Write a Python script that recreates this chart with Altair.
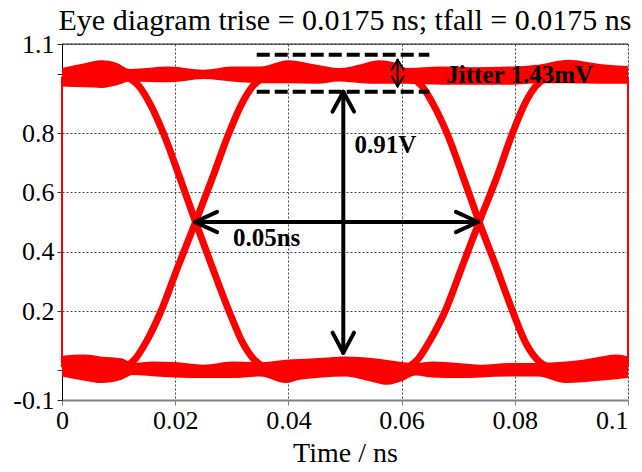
import altair as alt
import pandas as pd

FONT = "Liberation Serif"
RED = "#ff0000"

# ---- upper (logic 1) band: time, upper edge, lower edge ----
top_t = [0, 0.004, 0.007, 0.0095, 0.012, 0.019, 0.025, 0.030, 0.035, 0.040, 0.045, 0.049,
         0.053, 0.056, 0.059, 0.061, 0.067, 0.0725, 0.0795, 0.084, 0.0895, 0.095, 0.1]
top_hi = [1.019, 1.035, 1.045, 1.038, 1.016, 1.024, 1.013, 1.024, 1.024, 1.045, 1.030, 1.019,
          1.033, 1.045, 1.036, 1.019, 1.024, 1.022, 1.024, 1.030, 1.047, 1.033, 1.026]
top_lo = [0.957, 0.954, 0.952, 0.960, 0.974, 0.971, 0.982, 0.974, 0.968, 0.968, 0.966, 0.974,
          0.968, 0.966, 0.966, 0.966, 0.963, 0.963, 0.963, 0.968, 0.968, 0.966, 0.966]

# ---- lower (logic 0) band ----
bot_t = [0, 0.004, 0.007, 0.0105, 0.0125, 0.016, 0.020, 0.025, 0.030, 0.035, 0.0395, 0.042,
         0.046, 0.050, 0.055, 0.0575, 0.060, 0.0625, 0.0655, 0.070, 0.074, 0.079, 0.084,
         0.089, 0.092, 0.094, 0.098, 0.1]
bot_hi = [0.049, 0.053, 0.046, 0.041, 0.025, 0.030, 0.028, 0.019, 0.030, 0.027, 0.036, 0.038,
          0.042, 0.047, 0.041, 0.035, 0.028, 0.025, 0.030, 0.025, 0.019, 0.025, 0.025,
          0.030, 0.036, 0.042, 0.053, 0.047]
bot_lo = [-0.021, -0.035, -0.043, -0.032, -0.016, -0.020, -0.024, -0.026, -0.026, -0.021, -0.043, -0.032,
          -0.024, -0.021, -0.040, -0.049, -0.037, -0.017, -0.024, -0.026, -0.024, -0.021, -0.021,
          -0.043, -0.040, -0.037, -0.030, -0.026]

# ---- transitions ----
fall_v = [0.99, 0.96, 0.90, 0.80, 0.645, 0.5, 0.35, 0.20, 0.09, 0.035, 0.01]
rise_v = [0.01, 0.04, 0.10, 0.20, 0.35, 0.5, 0.645, 0.80, 0.90, 0.96, 0.99]
fall1_t = [0.0115, 0.0135, 0.0155, 0.0179, 0.0209, 0.0236, 0.0265, 0.0295, 0.0320, 0.0340, 0.0358]
rise1_t = [0.0112, 0.0130, 0.0150, 0.0175, 0.0205, 0.0236, 0.0265, 0.0295, 0.0318, 0.0338, 0.0358]
fall2_t = [0.0615, 0.0635, 0.0655, 0.0680, 0.0710, 0.0737, 0.0767, 0.0796, 0.0820, 0.0840, 0.0860]
rise2_t = [0.0612, 0.0630, 0.0650, 0.0677, 0.0707, 0.0737, 0.0767, 0.0796, 0.0818, 0.0838, 0.0858]

# ---- wrap-around vertical traces at the edges ----
edge_x = [0.0, 0.1]
edge_y0 = [0.01, 0.01]
edge_y1 = [0.99, 0.99]

# ---- annotations ----
jit_x0, jit_x1 = 0.0344, 0.0649
jit_levels = [1.064, 0.939]

# arrow segments: x, y, x2, y2, width
seg_x = [0.0235, 0.0235, 0.0235, 0.0735, 0.0735,
         0.0497, 0.0497, 0.0497, 0.0497, 0.0497,
         0.0593, 0.0593, 0.0593, 0.0593, 0.0593]
seg_y = [0.5, 0.5, 0.5, 0.5, 0.5,
         0.939, 0.939, 0.939, 0.059, 0.059,
         1.047, 1.047, 1.047, 0.957, 0.957]
seg_x2 = [0.0735, 0.0274, 0.0274, 0.0696, 0.0696,
          0.0497, 0.0478, 0.0516, 0.0478, 0.0516,
          0.0593, 0.0582, 0.0604, 0.0582, 0.0604]
seg_y2 = [0.5, 0.534, 0.466, 0.534, 0.466,
          0.059, 0.872, 0.872, 0.127, 0.127,
          0.957, 1.012, 1.012, 0.992, 0.992]
seg_w = [4, 4, 4, 4, 4,
         4, 4, 4, 4, 4,
         2, 2, 2, 2, 2]

labels = ["Jitter 1.43mV", "0.91V", "0.05ns"]
label_x = [0.0679, 0.0517, 0.0302]
label_y = [0.967, 0.733, 0.418]

x_ticks = [0, 0.02, 0.04, 0.06, 0.08, 0.1]
y_ticks = [-0.1, 0, 0.2, 0.4, 0.6, 0.8, 1.0, 1.1]

title_text = "Eye diagram   trise = 0.0175 ns; tfall = 0.0175 ns"

# ---------------- build ----------------
xs = alt.Scale(domain=[0, 0.1], nice=False, zero=False)
ys = alt.Scale(domain=[-0.1, 1.1], nice=False, zero=False)

x_axis = alt.Axis(values=x_ticks, format=".2~f", title="Time / ns",
                  grid=True, gridDash=[2, 2], gridColor="#444", gridWidth=1,
                  domainColor="#808080", domainWidth=2, tickColor="#808080", tickSize=5,
                  labelFont=FONT, labelFontSize=26, labelColor="black", labelPadding=2,
                  labelAlign={"condition": {"test": "datum.value > 0.099", "value": "right"},
                              "value": "center"},
                  titleFont=FONT, titleFontSize=28, titleFontWeight="normal",
                  titleColor="black", titlePadding=6, labelFlush=False)
y_axis = alt.Axis(values=y_ticks,
                  labelExpr="datum.value < 0 ? '-0.1' : (abs(datum.value) < 0.001 || abs(datum.value - 1) < 0.001 ? '' : format(datum.value, '.1~f'))",
                  title=None, grid=True, gridDash=[2, 2], gridColor="#444", gridWidth=1,
                  domainColor="black", domainWidth=1, tickColor="#333", tickSize=5,
                  labelFont=FONT, labelFontSize=26, labelColor="black", labelPadding=3,
                  labelFlush=False)

base_axes = alt.Chart(pd.DataFrame({"x": [0.0], "y": [0.0]})).mark_point(opacity=0).encode(
    x=alt.X("x:Q", scale=xs, axis=x_axis),
    y=alt.Y("y:Q", scale=ys, axis=y_axis),
)

top_df = pd.DataFrame({"t": top_t, "hi": top_hi, "lo": top_lo})
bot_df = pd.DataFrame({"t": bot_t, "hi": bot_hi, "lo": bot_lo})

def band(df):
    return alt.Chart(df).mark_area(color=RED, interpolate="monotone", opacity=1).encode(
        x=alt.X("t:Q", scale=xs), y=alt.Y("hi:Q", scale=ys), y2="lo:Q")

rows = []
for name, tt, vv in [("f1", fall1_t, fall_v), ("r1", rise1_t, rise_v),
                     ("f2", fall2_t, fall_v), ("r2", rise2_t, rise_v)]:
    for i, (a, b) in enumerate(zip(tt, vv)):
        rows.append({"curve": name, "i": i, "t": a, "v": b})
trans_df = pd.DataFrame(rows)
trans = alt.Chart(trans_df).mark_line(color=RED, strokeWidth=7, interpolate="monotone").encode(
    x=alt.X("t:Q", scale=xs), y=alt.Y("v:Q", scale=ys), detail="curve:N", order="i:Q")

edge_df = pd.DataFrame({"x": edge_x, "y0": edge_y0, "y1": edge_y1})
edges = alt.Chart(edge_df).mark_rule(color=RED, strokeWidth=2).encode(
    x=alt.X("x:Q", scale=xs), y=alt.Y("y0:Q", scale=ys), y2="y1:Q")

top_border = alt.Chart(pd.DataFrame({"y": [1.1]})).mark_rule(color="#222", strokeWidth=1).encode(
    y=alt.Y("y:Q", scale=ys))

jit_df = pd.DataFrame({"y": jit_levels, "x0": [jit_x0] * 2, "x1": [jit_x1] * 2})
jit = alt.Chart(jit_df).mark_rule(color="black", strokeWidth=4, strokeDash=[13, 5]).encode(
    x=alt.X("x0:Q", scale=xs), x2="x1:Q", y=alt.Y("y:Q", scale=ys))

seg_df = pd.DataFrame({"x": seg_x, "y": seg_y, "x2": seg_x2, "y2": seg_y2, "w": seg_w})
segs = alt.Chart(seg_df).mark_rule(color="black", strokeCap="round").encode(
    x=alt.X("x:Q", scale=xs), y=alt.Y("y:Q", scale=ys), x2="x2:Q", y2="y2:Q",
    strokeWidth=alt.StrokeWidth("w:Q", scale=None))

lab_df = pd.DataFrame({"label": labels, "x": label_x, "y": label_y})
texts = alt.Chart(lab_df).mark_text(font=FONT, fontSize=25, fontWeight="bold", color="black",
                                    align="left", baseline="alphabetic").encode(
    x=alt.X("x:Q", scale=xs), y=alt.Y("y:Q", scale=ys), text="label:N")

chart = alt.layer(
    base_axes, band(top_df), band(bot_df), trans, edges, top_border, jit, segs, texts
).properties(
    width=566, height=356,
    title=alt.TitleParams(title_text,
                          font=FONT, fontSize=30, fontWeight="normal", color="black",
                          anchor="middle", offset=4, dy=9),
    autosize=alt.AutoSizeParams(type="none"),
    padding={"left": 54, "top": 36, "right": 6, "bottom": 64},
).configure_view(stroke=None).configure(background="white")

chart.save("out.html", embed_options={"renderer": "svg", "actions": False})
